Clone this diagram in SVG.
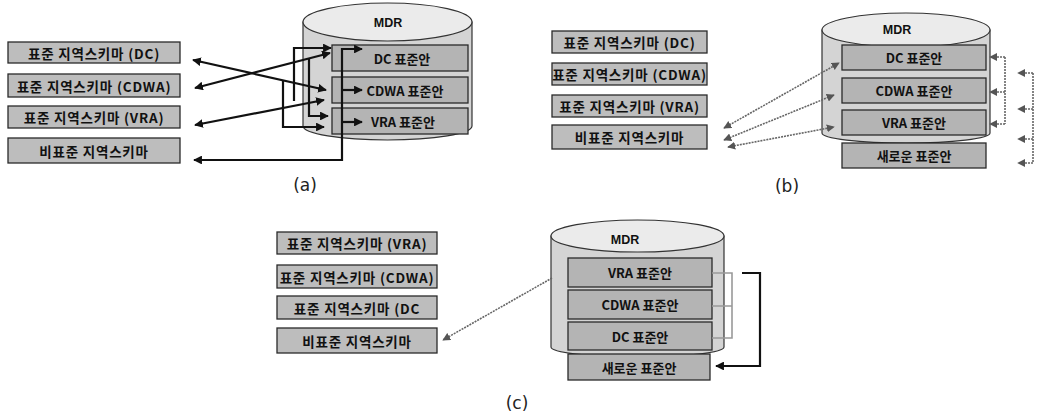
<svg xmlns="http://www.w3.org/2000/svg" width="1039" height="419" viewBox="0 0 1039 419">
<defs>
<style>
.box{fill:#bdbdbd;stroke:#2a2a2a;stroke-width:1.3}
.ibox{fill:#b4b4b4;stroke:#2a2a2a;stroke-width:1.3}
.cyl{fill:#d4d4d4;stroke:#333;stroke-width:1.2}
.top{fill:#ebebeb;stroke:#333;stroke-width:1.2}
.t{font-family:"Noto Sans CJK KR","Noto Sans",sans-serif;font-size:13px;font-weight:bold;fill:#111;text-anchor:middle;dominant-baseline:central}
.tl{font-size:13.5px;letter-spacing:0.8px}
.mdr{font-family:"Liberation Sans",Arial,sans-serif;font-size:12.5px;font-weight:bold;fill:#111;text-anchor:middle;dominant-baseline:central}
.cap{font-family:"DejaVu Sans","Liberation Sans",sans-serif;font-size:17px;fill:#222;text-anchor:middle;dominant-baseline:central}
.blk{fill:none;stroke:#111;stroke-width:2.2;stroke-linejoin:miter}
.gry{fill:none;stroke:#666;stroke-width:1.6;stroke-dasharray:2 1}
.gry2{fill:none;stroke:#999;stroke-width:1.6}
</style>
<marker id="ab" viewBox="0 0 10 10" refX="9" refY="5" markerWidth="4" markerHeight="4" orient="auto-start-reverse" markerUnits="strokeWidth"><path d="M0,0 L10,5 L0,10 z" fill="#111"/></marker>
<marker id="ag" viewBox="0 0 10 10" refX="9" refY="5" markerWidth="5" markerHeight="5" orient="auto-start-reverse" markerUnits="strokeWidth"><path d="M0,0 L10,5 L0,10 z" fill="#555"/></marker>
</defs>
<rect width="1039" height="419" fill="#fff"/>

<!-- (a) -->
<g id="a-cyl">
<path class="cyl" d="M303,22 V126 A84.5,14 0 0 0 472,126 V22 Z"/>
<ellipse class="top" cx="387.5" cy="22" rx="84.5" ry="19"/>
<text class="mdr" x="388" y="23">MDR</text>
</g>
<g id="a-l1"><rect class="box" x="8" y="42" width="172" height="21"/><text class="t tl" x="94" y="52.5">표준 지역스키마 (DC)</text></g>
<g id="a-l2"><rect class="box" x="8" y="74" width="172" height="23"/><text class="t tl" x="94" y="85.5">표준 지역스키마 (CDWA)</text></g>
<g id="a-l3"><rect class="box" x="8" y="106" width="172" height="22"/><text class="t tl" x="94" y="117">표준 지역스키마 (VRA)</text></g>
<g id="a-l4"><rect class="box" x="8" y="138" width="172" height="25"/><text class="t tl" x="94" y="150.5">비표준 지역스키마</text></g>
<g id="a-dc"><rect class="ibox" x="332" y="45" width="136" height="26"/><text class="t" x="402" y="58">DC 표준안</text></g>
<g id="a-cdwa"><rect class="ibox" x="332" y="77" width="136" height="26"/><text class="t" x="405" y="90">CDWA 표준안</text></g>
<g id="a-vra"><rect class="ibox" x="332" y="108" width="136" height="26"/><text class="t" x="403" y="121">VRA 표준안</text></g>

<g id="a-conn">
<path class="blk" d="M193,60 L326,90" marker-start="url(#ab)" marker-end="url(#ab)"/>
<path class="blk" d="M195,88 L330,53" marker-start="url(#ab)" marker-end="url(#ab)"/>
<path class="blk" d="M195,125 L324,100" marker-start="url(#ab)" marker-end="url(#ab)"/>
<path class="blk" d="M294,101 V48 H331" marker-end="url(#ab)"/>
<path class="blk" d="M309,58 V116 H328" marker-end="url(#ab)"/>
<path class="blk" d="M283,80 V127 H324" marker-end="url(#ab)"/>
<path class="blk" d="M194,160 H342 V49 H362" marker-start="url(#ab)" marker-end="url(#ab)"/>
<path class="blk" d="M342,90 H362" marker-end="url(#ab)"/>
<path class="blk" d="M342,122 H362" marker-end="url(#ab)"/>
</g>
<text class="cap" x="305" y="185">(a)</text>

<!-- (b) -->
<g id="b-cyl">
<path class="cyl" d="M822,30 V133 A84,10 0 0 0 990,133 V30 Z"/>
<ellipse class="top" cx="906" cy="30" rx="84" ry="17"/>
<text class="mdr" x="897" y="30">MDR</text>
</g>
<g id="b-l1"><rect class="box" x="552" y="31" width="155" height="22"/><text class="t tl" x="629.5" y="42">표준 지역스키마 (DC)</text></g>
<g id="b-l2"><rect class="box" x="552" y="63" width="155" height="22"/><text class="t tl" x="629.5" y="74">표준 지역스키마 (CDWA)</text></g>
<g id="b-l3"><rect class="box" x="552" y="95" width="155" height="22"/><text class="t tl" x="629.5" y="106">표준 지역스키마 (VRA)</text></g>
<g id="b-l4"><rect class="box" x="552" y="125" width="155" height="24"/><text class="t tl" x="629.5" y="137">비표준 지역스키마</text></g>
<g id="b-dc"><rect class="ibox" x="842" y="45" width="144" height="25"/><text class="t" x="914" y="57.5">DC 표준안</text></g>
<g id="b-cdwa"><rect class="ibox" x="842" y="78" width="144" height="25"/><text class="t" x="914" y="90.5">CDWA 표준안</text></g>
<g id="b-vra"><rect class="ibox" x="842" y="110" width="144" height="25"/><text class="t" x="914" y="122.5">VRA 표준안</text></g>
<g id="b-new"><rect class="ibox" x="842" y="143" width="144" height="25"/><text class="t" x="914" y="155.5">새로운 표준안</text></g>

<g id="b-conn">
<path class="gry" d="M724,128 L839,63" marker-start="url(#ag)" marker-end="url(#ag)"/>
<path class="gry" d="M724,140 L834,95" marker-start="url(#ag)" marker-end="url(#ag)"/>
<path class="gry" d="M728,147 L834,127" marker-start="url(#ag)" marker-end="url(#ag)"/>
<path class="gry" d="M1005,57 V124"/>
<path class="gry" d="M1005,57 H990" marker-end="url(#ag)"/>
<path class="gry" d="M1005,92 H990" marker-end="url(#ag)"/>
<path class="gry" d="M1005,124 H990" marker-end="url(#ag)"/>
<path class="gry" d="M1033,73 V163"/>
<path class="gry" d="M1033,73 H1018" marker-end="url(#ag)"/>
<path class="gry" d="M1033,109 H1018" marker-end="url(#ag)"/>
<path class="gry" d="M1033,139 H1018" marker-end="url(#ag)"/>
<path class="gry" d="M1033,163 H1018" marker-end="url(#ag)"/>
</g>
<text class="cap" x="787" y="186">(b)</text>

<!-- (c) -->
<g id="c-cyl">
<path class="cyl" d="M551,236 V347 A86.5,10 0 0 0 724,347 V236 Z"/>
<ellipse class="top" cx="637.5" cy="236" rx="86.5" ry="16"/>
<text class="mdr" x="625" y="240">MDR</text>
</g>
<g id="c-l1"><rect class="box" x="277" y="232" width="160" height="22"/><text class="t tl" x="357" y="243">표준 지역스키마 (VRA)</text></g>
<g id="c-l2"><rect class="box" x="277" y="265" width="160" height="23"/><text class="t tl" x="357" y="276.5">표준 지역스키마 (CDWA)</text></g>
<g id="c-l3"><rect class="box" x="277" y="296" width="160" height="23"/><text class="t tl" x="357" y="307.5">표준 지역스키마 (DC</text></g>
<g id="c-l4"><rect class="box" x="277" y="328" width="160" height="25"/><text class="t tl" x="357" y="340.5">비표준 지역스키마</text></g>
<g id="c-vra"><rect class="ibox" x="568" y="258" width="144" height="29"/><text class="t" x="640" y="272.5">VRA 표준안</text></g>
<g id="c-cdwa"><rect class="ibox" x="568" y="290" width="144" height="29"/><text class="t" x="640" y="304.5">CDWA 표준안</text></g>
<g id="c-dc"><rect class="ibox" x="568" y="322" width="144" height="28"/><text class="t" x="640" y="336">DC 표준안</text></g>
<g id="c-new"><rect class="ibox" x="568" y="354" width="142" height="26"/><text class="t" x="639" y="367">새로운 표준안</text></g>

<g id="c-conn">
<path class="gry" d="M552,278 L443,340" marker-end="url(#ag)"/>
<path class="gry2" d="M712,273 H732 V338 H712 M712,306 H732"/>
<path class="blk" d="M742,273 H760 V366 H716" marker-end="url(#ab)"/>
</g>
<text class="cap" x="517" y="403">(c)</text>
</svg>
